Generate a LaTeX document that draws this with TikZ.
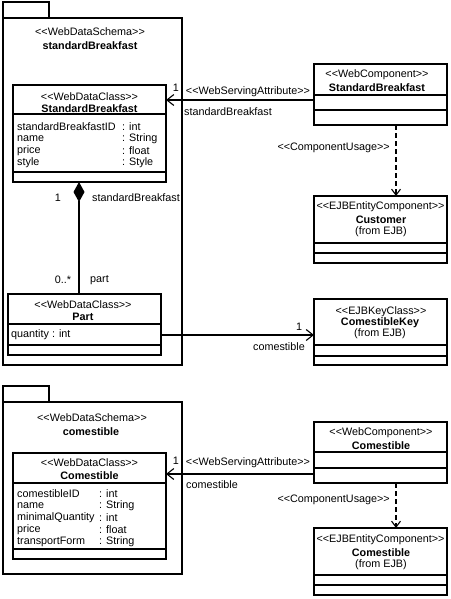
\documentclass[tikz,border=0pt]{standalone}
\usepackage{fontspec}
\setmainfont{Liberation Sans}
\usetikzlibrary{arrows.meta}
\newcommand{\umlfs}{\fontsize{10.8}{12}\selectfont}
\newcommand{\stereo}[1]{<{}<#1>{}>}
\begin{document}
\begin{tikzpicture}[x=1pt,y=-1pt,
  ln/.style={line width=1.1pt},
  box/.style={draw, line width=1.1pt, inner sep=0pt, outer sep=0pt, anchor=north west},
  t/.style={inner sep=0pt, font=\umlfs},
  tb/.style={inner sep=0pt, font=\umlfs\bfseries},
  barb/.style={-{Straight Barb[length=7pt,width=11pt,line width=1.1pt]}},
  dep/.style={line width=1.1pt, dash pattern=on 5pt off 3pt, -{Straight Barb[length=6pt,width=9pt,line width=1.1pt]}},
  comp/.style={{Diamond[length=20pt,width=11pt]}-, line width=1.1pt},
]
\path[use as bounding box] (0,0) rectangle (450,599);

% ---------- package standardBreakfast ----------
\node[box, minimum width=46pt, minimum height=16pt] (pkg1tab) at (3,2) {};
\node[box, minimum width=179pt, minimum height=347pt] (pkg1) at (3,18) {};
\node[t] (pkg1st) at (90,32) {\stereo{WebDataSchema}};
\node[tb] (pkg1nm) at (90,46) {standardBreakfast};

% class StandardBreakfast
\node[box, minimum width=153pt, minimum height=97pt] (sbc) at (13,85) {};
\draw[ln] (13,114) -- (166,114);
\draw[ln] (13,172) -- (166,172);
\node[t] (sbcst) at (89.5,97) {\stereo{WebDataClass}};
\node[tb] (sbcnm) at (89.5,109) {StandardBreakfast};
\node[t, anchor=west] (sba1) at (17,127) {standardBreakfastID};
\node[t, anchor=west] (sbt1) at (122,127) {: int};
\node[t, anchor=west] (sba2) at (17,139) {name};
\node[t, anchor=west] (sbt2) at (122,139) {: String};
\node[t, anchor=west] (sba3) at (17,151) {price};
\node[t, anchor=west] (sbt3) at (122,151) {: float};
\node[t, anchor=west] (sba4) at (17,163) {style};
\node[t, anchor=west] (sbt4) at (122,163) {: Style};

% class Part
\node[box, minimum width=153pt, minimum height=61pt] (part) at (8,294) {};
\draw[ln] (8,324) -- (161,324);
\draw[ln] (8,345) -- (161,345);
\node[t] (partst) at (83,305) {\stereo{WebDataClass}};
\node[tb] (partnm) at (83,317) {Part};
\node[t, anchor=west] (parta1) at (11,335) {quantity : int};

% WebComponent StandardBreakfast
\node[box, minimum width=133pt, minimum height=61pt] (wc1) at (314,64) {};
\draw[ln] (314,95) -- (447,95);
\draw[ln] (314,110) -- (447,110);
\node[t] (wc1st) at (377,75) {\stereo{WebComponent}};
\node[tb] (wc1nm) at (377,88) {StandardBreakfast};

% EJBEntityComponent Customer
\node[box, minimum width=133pt, minimum height=67pt] (cust) at (314,196) {};
\draw[ln] (314,243) -- (447,243);
\draw[ln] (314,253) -- (447,253);
\node[t] (custst) at (380.5,207) {\stereo{EJBEntityComponent}};
\node[tb] (custnm) at (381,220) {Customer};
\node[t] (custfr) at (381,232) {(from EJB)};

% EJBKeyClass ComestibleKey
\node[box, minimum width=133pt, minimum height=66pt] (ck) at (314,299) {};
\draw[ln] (314,345) -- (447,345);
\draw[ln] (314,356) -- (447,356);
\node[t] (ckst) at (381,312) {\stereo{EJBKeyClass}};
\node[tb] (cknm) at (380,323) {ComestibleKey};
\node[t] (ckfr) at (380,334) {(from EJB)};

% ---------- package comestible ----------
\node[box, minimum width=46pt, minimum height=16pt] (pkg2tab) at (3,386) {};
\node[box, minimum width=179pt, minimum height=172pt] (pkg2) at (3,402) {};
\node[t] (pkg2st) at (92,418) {\stereo{WebDataSchema}};
\node[tb] (pkg2nm) at (91,432) {comestible};

% class Comestible
\node[box, minimum width=153pt, minimum height=106pt] (cc) at (13,453) {};
\draw[ln] (13,483) -- (166,483);
\draw[ln] (13,549) -- (166,549);
\node[t] (ccst) at (89.5,463) {\stereo{WebDataClass}};
\node[tb] (ccnm) at (89.5,476) {Comestible};
\node[t, anchor=west] (cca1) at (17,494) {comestibleID};
\node[t, anchor=west] (cct1) at (99,494) {: int};
\node[t, anchor=west] (cca2) at (17,506) {name};
\node[t, anchor=west] (cct2) at (99,506) {: String};
\node[t, anchor=west] (cca3) at (17,518) {minimalQuantity};
\node[t, anchor=west] (cct3) at (99,518) {: int};
\node[t, anchor=west] (cca4) at (17,530) {price};
\node[t, anchor=west] (cct4) at (99,530) {: float};
\node[t, anchor=west] (cca5) at (17,542) {transportForm};
\node[t, anchor=west] (cct5) at (99,542) {: String};

% WebComponent Comestible
\node[box, minimum width=133pt, minimum height=61pt] (wc2) at (314,422) {};
\draw[ln] (314,452) -- (447,452);
\draw[ln] (314,468) -- (447,468);
\node[t] (wc2st) at (381,433) {\stereo{WebComponent}};
\node[tb] (wc2nm) at (381,446) {Comestible};

% EJBEntityComponent Comestible
\node[box, minimum width=133pt, minimum height=67pt] (ec) at (314,528) {};
\draw[ln] (314,575) -- (447,575);
\draw[ln] (314,585) -- (447,585);
\node[t] (ecst) at (380.5,540) {\stereo{EJBEntityComponent}};
\node[tb] (ecnm) at (381,553) {Comestible};
\node[t] (ecfr) at (381,565) {(from EJB)};

% ---------- connectors ----------
\coordinate (ya1) at (0,100);
\coordinate (xd) at (396,0);
\coordinate (xc) at (79,0);
\coordinate (ya2) at (0,335);
\coordinate (ya3) at (0,474);

\draw[ln, barb] (wc1.west |- ya1) -- (sbc.east |- ya1);
\node[t] (l1) at (176,88) {1};
\node[t] (l2) at (248,92) {\stereo{WebServingAttribute}};
\node[t, anchor=west] (l3) at (184,112) {standardBreakfast};

\draw[dep] (wc1.south -| xd) -- (cust.north -| xd);
\node[t, anchor=east] (l4) at (390,148) {\stereo{ComponentUsage}};

\draw[comp] (sbc.south -| xc) -- (part.north -| xc);
\node[t] (l5) at (58,198) {1};
\node[t, anchor=west] (l6) at (92,198) {standardBreakfast};
\node[t] (l7) at (63,280) {0..*};
\node[t, anchor=west] (l8) at (90,280) {part};

\draw[ln, barb] (part.east |- ya2) -- (ck.west |- ya2);
\node[t] (l9) at (299,327) {1};
\node[t, anchor=east] (l10) at (305,347) {comestible};

\draw[ln, barb] (wc2.west |- ya3) -- (cc.east |- ya3);
\node[t] (l11) at (176,461) {1};
\node[t] (l12) at (248,463) {\stereo{WebServingAttribute}};
\node[t, anchor=west] (l13) at (186,485) {comestible};

\draw[dep] (wc2.south -| xd) -- (ec.north -| xd);
\node[t, anchor=east] (l14) at (390,500) {\stereo{ComponentUsage}};
\end{tikzpicture}
\end{document}
